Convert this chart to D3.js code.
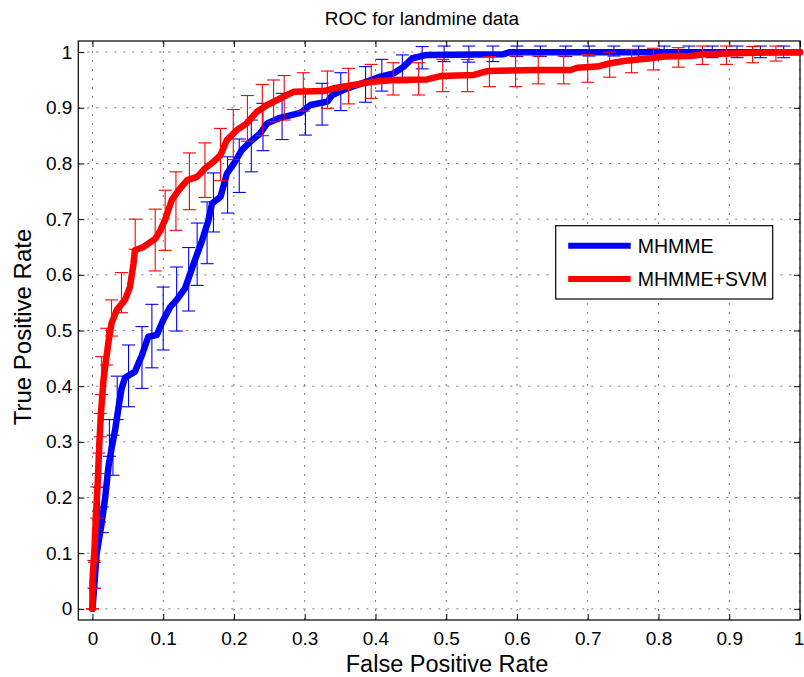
<!DOCTYPE html>
<html>
<head>
<meta charset="utf-8">
<script src="https://cdn.jsdelivr.net/npm/d3@7"></script>
<style>
    body { margin: 0; background: #fff; }
    text { font-family: "Liberation Sans", Arial, Helvetica, sans-serif; fill: #000; }
</style>
</head>
<body>
<div id="graph"></div>
<script>
// ROC curves: [false positive rate, true positive rate]
var mhmme = [
    [0, 0], [0.0014, 0.022], [0.006, 0.1], [0.013, 0.154], [0.018, 0.2], [0.0226, 0.255],
    [0.0274, 0.291], [0.032, 0.321], [0.037, 0.363], [0.041, 0.395], [0.046, 0.415],
    [0.06, 0.426], [0.07, 0.456], [0.079, 0.489], [0.091, 0.492], [0.1, 0.519],
    [0.11, 0.5425], [0.119, 0.555], [0.131, 0.576], [0.143, 0.62], [0.155, 0.662],
    [0.164, 0.698], [0.169, 0.728], [0.181, 0.74], [0.19, 0.782], [0.2, 0.8],
    [0.211, 0.824], [0.223, 0.839], [0.237, 0.854], [0.247, 0.872], [0.265, 0.882],
    [0.294, 0.891], [0.308, 0.905], [0.332, 0.911], [0.339, 0.923], [0.36, 0.935],
    [0.388, 0.947], [0.407, 0.956], [0.426, 0.962], [0.44, 0.974], [0.452, 0.989],
    [0.473, 0.995], [0.58, 0.996], [0.59, 1.0], [1, 1]
];
var mhmmeSvm = [
    [0, 0], [0, 0.05], [0.003, 0.111], [0.005, 0.171], [0.0076, 0.231], [0.0095, 0.291],
    [0.012, 0.351], [0.0156, 0.411], [0.018, 0.435], [0.023, 0.483], [0.027, 0.513],
    [0.0345, 0.537], [0.046, 0.555], [0.053, 0.578], [0.058, 0.62], [0.06, 0.644],
    [0.072, 0.65], [0.089, 0.665], [0.096, 0.68], [0.103, 0.7], [0.112, 0.734],
    [0.122, 0.752], [0.134, 0.77], [0.148, 0.776], [0.159, 0.791], [0.171, 0.803],
    [0.181, 0.815], [0.19, 0.842], [0.204, 0.86], [0.218, 0.872], [0.2325, 0.893],
    [0.247, 0.905], [0.261, 0.914], [0.275, 0.923], [0.285, 0.929], [0.327, 0.93],
    [0.341, 0.935], [0.369, 0.941], [0.397, 0.947], [0.426, 0.95], [0.473, 0.951],
    [0.492, 0.957], [0.539, 0.959], [0.558, 0.966], [0.629, 0.968], [0.676, 0.968],
    [0.685, 0.972], [0.713, 0.974], [0.732, 0.98], [0.751, 0.984], [0.789, 0.989],
    [0.808, 0.992], [0.845, 0.993], [0.864, 0.996], [0.911, 0.998], [0.968, 1.0], [1, 1]
];

// error bars: [x, low, high]
var mhmmeErr = [
    [0.003, 0.037, 0.084], [0.01, 0.156, 0.218], [0.014, 0.137, 0.183], [0.024, 0.274, 0.34],
    [0.029, 0.24, 0.312], [0.035, 0.34, 0.418], [0.051, 0.363, 0.474], [0.07, 0.396, 0.507],
    [0.084, 0.433, 0.547], [0.1, 0.465, 0.578], [0.119, 0.499, 0.614], [0.136, 0.535, 0.649],
    [0.148, 0.581, 0.693], [0.162, 0.62, 0.731], [0.171, 0.677, 0.783], [0.191, 0.711, 0.812],
    [0.2075, 0.748, 0.844], [0.2245, 0.785, 0.878], [0.241, 0.823, 0.908], [0.268, 0.843, 0.926],
    [0.301, 0.851, 0.931], [0.3245, 0.869, 0.944], [0.351, 0.895, 0.963], [0.386, 0.91, 0.974],
    [0.409, 0.93, 0.987], [0.438, 0.945, 0.995], [0.466, 0.97, 1.01], [0.497, 0.983, 1.011],
    [0.532, 0.982, 1.011], [0.566, 0.983, 1.011], [0.6, 0.992, 1.011], [0.633, 0.992, 1.011],
    [0.669, 0.992, 1.011], [0.702, 0.993, 1.011], [0.737, 0.993, 1.011], [0.772, 0.99, 1.011],
    [0.808, 0.99, 1.011], [0.843, 0.99, 1.011], [0.876, 0.99, 1.011], [0.911, 0.99, 1.011],
    [0.944, 0.99, 1.011], [0.977, 0.99, 1.011]
];
var mhmmeSvmErr = [
    [0, 0, 0], [0.002, 0.037, 0.087], [0.006, 0.163, 0.219], [0.009, 0.243, 0.28],
    [0.011, 0.309, 0.351], [0.013, 0.385, 0.453], [0.02, 0.438, 0.504], [0.027, 0.49, 0.555],
    [0.041, 0.532, 0.604], [0.0604, 0.646, 0.70], [0.0887, 0.607, 0.718], [0.1028, 0.644, 0.752],
    [0.118, 0.68, 0.785], [0.137, 0.717, 0.819], [0.159, 0.739, 0.837], [0.181, 0.769, 0.863],
    [0.199, 0.807, 0.897], [0.219, 0.84, 0.922], [0.24, 0.85, 0.942], [0.256, 0.875, 0.95],
    [0.271, 0.878, 0.958], [0.298, 0.894, 0.963], [0.332, 0.899, 0.966], [0.362, 0.907, 0.971],
    [0.394, 0.917, 0.978], [0.425, 0.923, 0.981], [0.461, 0.923, 0.981], [0.495, 0.929, 0.987],
    [0.53, 0.929, 0.987], [0.561, 0.938, 0.992], [0.598, 0.938, 0.993], [0.63, 0.943, 0.993],
    [0.666, 0.943, 0.993], [0.7, 0.946, 0.996], [0.731, 0.955, 1.0], [0.762, 0.963, 1.005],
    [0.793, 0.968, 1.007], [0.828, 0.973, 1.008], [0.862, 0.978, 1.011], [0.896, 0.978, 1.011],
    [0.933, 0.981, 1.01], [0.966, 0.984, 1.011]
];

var xTicks = [0, 0.1, 0.2, 0.3, 0.4, 0.5, 0.6, 0.7, 0.8, 0.9, 1];
var yTicks = [0, 0.1, 0.2, 0.3, 0.4, 0.5, 0.6, 0.7, 0.8, 0.9, 1];
var seriesNames = ["MHMME", "MHMME+SVM"];
var seriesColors = ["#0000ff", "#ff0000"];

var width = 804,
    height = 677;
var plot = { left: 78.3, top: 41, right: 800, bottom: 620 };

var svg = d3.select("#graph")
    .append("svg")
    .attr("width", width)
    .attr("height", height);

var x = d3.scaleLinear()
    .domain([-0.02, 1])
    .range([plot.left, plot.right]);
var y = d3.scaleLinear()
    .domain([-0.02, 1.02])
    .range([plot.bottom, plot.top]);

svg.append("rect")
    .attr("x", plot.left).attr("y", plot.top)
    .attr("width", plot.right - plot.left)
    .attr("height", plot.bottom - plot.top)
    .attr("fill", "#fff");

// dotted grid
var grid = svg.append("g").attr("stroke", "#777").attr("stroke-width", 1).attr("stroke-dasharray", "2,7");
grid.selectAll(".gx").data(xTicks).enter().append("line")
    .attr("x1", function (d) { return x(d); }).attr("x2", function (d) { return x(d); })
    .attr("y1", plot.bottom).attr("y2", plot.top);
grid.selectAll(".gy").data(yTicks).enter().append("line")
    .attr("y1", function (d) { return y(d); }).attr("y2", function (d) { return y(d); })
    .attr("x1", plot.left).attr("x2", plot.right);

// axes, ticks pointing inward on all four sides
var fmt = function (d) { return String(d); };
var axes = [
    svg.append("g").attr("transform", "translate(0," + plot.bottom + ")")
        .call(d3.axisBottom(x).tickValues(xTicks).tickFormat(fmt).tickSize(-6).tickPadding(11.5)),
    svg.append("g").attr("transform", "translate(" + plot.left + ",0)")
        .call(d3.axisLeft(y).tickValues(yTicks).tickFormat(fmt).tickSize(-6).tickPadding(6)),
    svg.append("g").attr("transform", "translate(0," + plot.top + ")")
        .call(d3.axisTop(x).tickValues(xTicks).tickFormat("").tickSize(-6)),
    svg.append("g").attr("transform", "translate(" + plot.right + ",0)")
        .call(d3.axisRight(y).tickValues(yTicks).tickFormat("").tickSize(-6))
];
axes.forEach(function (g) {
    g.select(".domain").remove();
    g.selectAll("line").attr("stroke", "#000");
    g.selectAll("text").attr("font-size", "19px").attr("fill", "#000");
});
// last x label sits on the window edge, keep it inside
axes[0].selectAll("text").filter(function (d) { return d === 1; }).attr("dx", "-1.6px");

svg.append("rect")
    .attr("x", plot.left).attr("y", plot.top)
    .attr("width", plot.right - plot.left)
    .attr("height", plot.bottom - plot.top)
    .attr("fill", "none").attr("stroke", "#000").attr("stroke-width", 1.2);

var line = d3.line()
    .x(function (d) { return x(d[0]); })
    .y(function (d) { return y(d[1]); });

function drawSeries(data, err, color) {
    svg.append("path")
        .datum(data)
        .attr("d", line)
        .attr("fill", "none")
        .attr("stroke", color)
        .attr("stroke-width", 6.5)
        .attr("stroke-linejoin", "round")
        .attr("stroke-linecap", "round");
    var g = svg.append("g").attr("stroke", color).attr("stroke-width", 1.1).attr("fill", "none");
    var bars = g.selectAll("g").data(err).enter().append("g");
    bars.append("line")
        .attr("x1", function (d) { return x(d[0]); }).attr("x2", function (d) { return x(d[0]); })
        .attr("y1", function (d) { return y(d[1]); }).attr("y2", function (d) { return y(d[2]); });
    [1, 2].forEach(function (k) {
        bars.append("line")
            .attr("x1", function (d) { return x(d[0]) - 6.5; }).attr("x2", function (d) { return x(d[0]) + 6.5; })
            .attr("y1", function (d) { return y(d[k]); }).attr("y2", function (d) { return y(d[k]); });
    });
}
drawSeries(mhmme, mhmmeErr, seriesColors[0]);
drawSeries(mhmmeSvm, mhmmeSvmErr, seriesColors[1]);

// titles
svg.append("text").attr("x", 422).attr("y", 25)
    .attr("text-anchor", "middle").attr("font-size", "19px")
    .text("ROC for landmine data");
svg.append("text").attr("x", 447).attr("y", 672)
    .attr("text-anchor", "middle").attr("font-size", "23.5px")
    .text("False Positive Rate");
svg.append("text")
    .attr("transform", "translate(31,327) rotate(-90)")
    .attr("text-anchor", "middle").attr("font-size", "24px")
    .text("True Positive Rate");

// legend
var legend = svg.append("g").attr("transform", "translate(555.7,225.7)");
legend.append("rect")
    .attr("width", 217).attr("height", 73.3)
    .attr("fill", "#fff").attr("stroke", "#000").attr("stroke-width", 1.2);
seriesNames.forEach(function (name, i) {
    var ly = 20 + i * 33.3;
    legend.append("line")
        .attr("x1", 12.5).attr("x2", 75).attr("y1", ly).attr("y2", ly)
        .attr("stroke", seriesColors[i]).attr("stroke-width", 6);
    legend.append("text")
        .attr("x", 82).attr("y", ly + 7.5)
        .attr("font-size", "19.5px")
        .text(name);
});
</script>
</body>
</html>
